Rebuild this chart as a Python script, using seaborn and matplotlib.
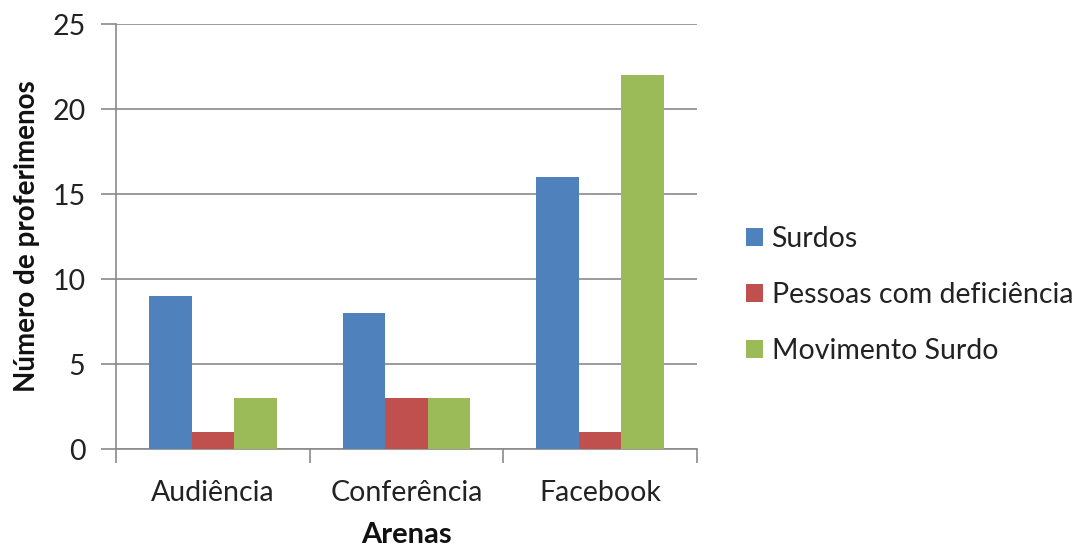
import matplotlib
matplotlib.use("Agg")
import matplotlib.pyplot as plt
import seaborn as sns
import pandas as pd
from matplotlib.ticker import FixedLocator

arenas = ["Audiência", "Conferência", "Facebook"]
series = ["Surdos", "Pessoas com deficiência", "Movimento Surdo"]
surdos = [9, 8, 16]
pessoas_def = [1, 3, 1]
movimento = [3, 3, 22]
colors = ["#4F81BD", "#C0504D", "#9BBB59"]

rows = []
for name, vals in zip(series, [surdos, pessoas_def, movimento]):
    for a, v in zip(arenas, vals):
        rows.append({"Arena": a, "Grupo": name, "Valor": v})
df = pd.DataFrame(rows)

sns.set_style("white")
plt.rcParams["font.family"] = ["Lato", "DejaVu Sans"]

fig = plt.figure(figsize=(10.8, 5.49), dpi=100)
ax = fig.add_axes([0.1074, 0.182, 0.538, 0.774])

sns.barplot(data=df, x="Arena", y="Valor", hue="Grupo", order=arenas,
            hue_order=series, palette=colors, width=0.66, gap=0,
            linewidth=0, saturation=1, ax=ax, zorder=3)

grid_c = "#8a8a8a"
txt_c = "#222222"
ax.set_ylim(0, 25)
ax.set_xlim(-0.5, 2.5)
ax.set_yticks([0, 5, 10, 15, 20, 25])
ax.yaxis.grid(True, color=grid_c, linewidth=1.2, zorder=0)
ax.set_axisbelow(True)
for s in ["top", "right"]:
    ax.spines[s].set_visible(False)
for s in ["left", "bottom"]:
    ax.spines[s].set_color(grid_c)
    ax.spines[s].set_linewidth(1.2)

ax.tick_params(axis="y", length=11, width=1.2, color=grid_c, labelsize=20.5,
               labelcolor=txt_c, pad=11, direction="out", left=True)
ax.tick_params(axis="x", which="major", length=0, labelsize=20.5,
               labelcolor=txt_c, pad=22)
ax.xaxis.set_minor_locator(FixedLocator([-0.5, 0.5, 1.5, 2.5]))
ax.tick_params(axis="x", which="minor", length=10, width=1.2, color=grid_c,
               direction="out", bottom=True)

ax.set_xlabel("Arenas", fontsize=21, fontweight="bold", labelpad=12,
              color="#111111")
ax.set_ylabel("Número de proferimenos", fontsize=20, fontweight="bold",
              labelpad=9, color="#111111")

leg = ax.legend(loc="center left", bbox_to_anchor=(1.04, 0.362), frameon=False,
                fontsize=20.5, handlelength=0.6, handleheight=0.6,
                handletextpad=0.3, labelspacing=1.05)
for t in leg.get_texts():
    t.set_color(txt_c)

fig.savefig("out.png", dpi=100)
